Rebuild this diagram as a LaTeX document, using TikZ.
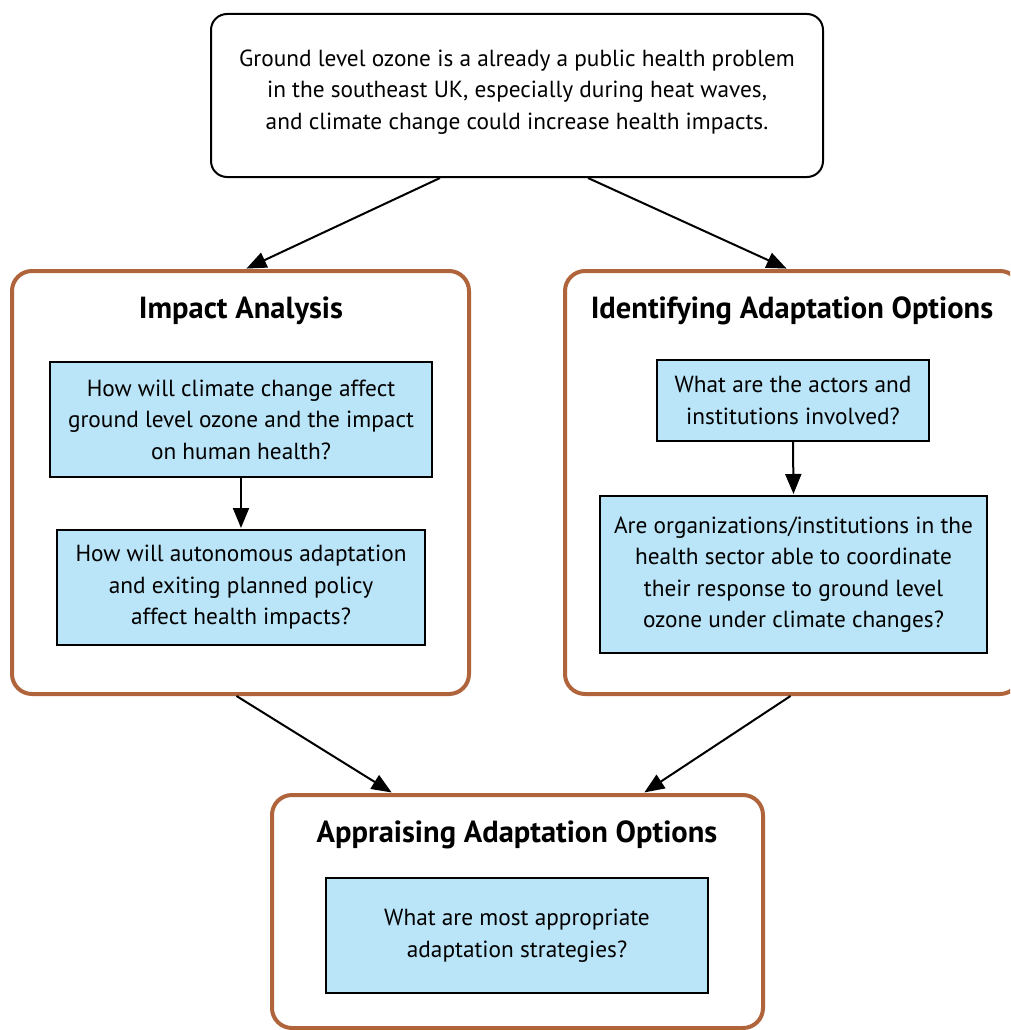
\documentclass[tikz,border=0pt]{standalone}
\usepackage{fontspec}
\setmainfont{PT Sans}
\usetikzlibrary{arrows.meta}
\definecolor{brownline}{HTML}{B0643B}
\definecolor{qblue}{HTML}{BAE4F7}
\begin{document}
\begin{tikzpicture}[x=1pt,y=-1pt,
  body/.style={font=\fontsize{23.3}{31.5}\selectfont, align=center},
  headtxt/.style={font=\fontsize{30.5}{34}\selectfont\bfseries, align=center},
  topbox/.style={draw=black, line width=2pt, rounded corners=16pt, fill=white, inner sep=0pt},
  stagebox/.style={draw=brownline, line width=4pt, rounded corners=20pt, fill=white, inner sep=0pt},
  qbox/.style={draw=black, line width=2pt, fill=qblue, inner sep=0pt, body},
  flow/.style={line width=2pt, -{Triangle[length=20pt,width=16pt]}, shorten >=1pt}
]
\useasboundingbox (0,0) rectangle (1010,1030);
\clip (0,0) rectangle (1010,1030);
\fill[white] (0,0) rectangle (1010,1030);

% top statement
\node[topbox, minimum width=612pt, minimum height=163pt] (top) at (517,95.5) {};
\node[body] (toptxt) at (517,92) {Ground level ozone is a already a public health problem\\in the southeast UK, especially during heat waves,\\and climate change could increase health impacts.};

% stage boxes
\node[stagebox, minimum width=457pt, minimum height=423pt] (imp) at (240.5,482.5) {};
\node[stagebox, minimum width=455pt, minimum height=423pt] (ident) at (792.5,482.5) {};
\node[stagebox, minimum width=491pt, minimum height=233pt] (appr) at (517.5,911.5) {};

% titles
\node[headtxt] (impT) at (241,311) {Impact Analysis};
\node[headtxt] (identT) at (792,311) {Identifying Adaptation Options};
\node[headtxt] (apprT) at (517,835) {Appraising Adaptation Options};

% question boxes
\node[qbox, minimum width=382pt, minimum height=115pt] (q1) at (241,419.5) {How will climate change affect\\ground level ozone and the impact\\on human health?};
\node[qbox, minimum width=368pt, minimum height=115pt] (q2) at (241,587.5) {How will autonomous adaptation\\and exiting planned policy\\affect health impacts?};
\node[qbox, minimum width=272pt, minimum height=81pt] (q3) at (793,400.5) {What are the actors and\\institutions involved?};
\node[qbox, minimum width=387pt, minimum height=157pt] (q4) at (793.5,574.5) {Are organizations/institutions in the\\health sector able to coordinate\\their response to ground level\\ozone under climate changes?};
\node[qbox, minimum width=382pt, minimum height=115pt] (q5) at (517,935.5) {What are most appropriate\\adaptation strategies?};

% connectors
\draw[flow] ([xshift=-77pt]top.south) -- ([xshift=5pt]imp.north);
\draw[flow] ([xshift=71pt]top.south) -- ([xshift=-5pt]ident.north);
\draw[flow] (q1.south) -- (q2.north);
\draw[flow] (q3.south) -- (q4.north);
\draw[flow] ([xshift=-4pt]imp.south) -- ([xshift=-125pt]appr.north);
\draw[flow] ([xshift=-2pt]ident.south) -- ([xshift=126pt]appr.north);
\end{tikzpicture}
\end{document}
